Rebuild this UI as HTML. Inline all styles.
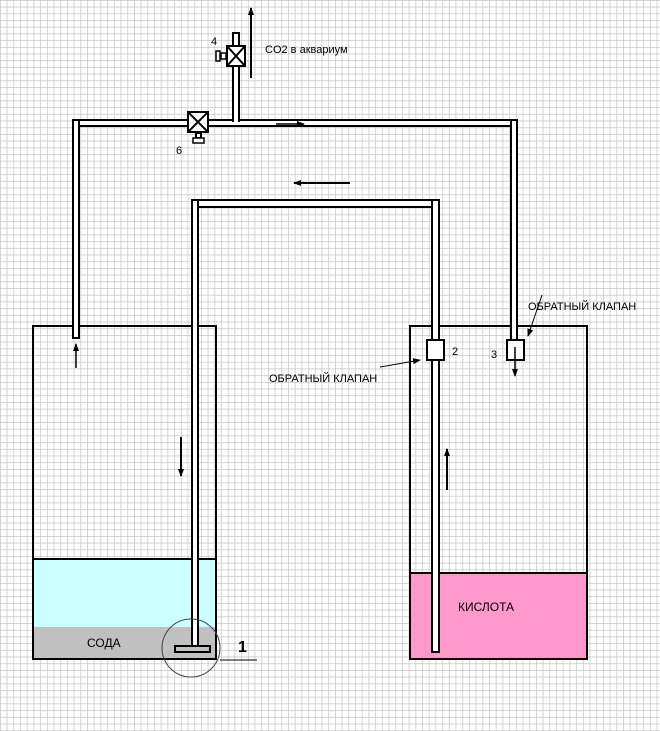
<!DOCTYPE html>
<html><head><meta charset="utf-8"><style>
html,body{margin:0;padding:0;background:#fff}
svg{display:block}
text{font-family:"Liberation Sans",sans-serif;fill:#000}
</style></head><body>
<svg width="660" height="731" viewBox="0 0 660 731" xmlns="http://www.w3.org/2000/svg">
<defs>
<pattern id="g" width="6.7" height="6.7" patternUnits="userSpaceOnUse">
<rect width="6.7" height="6.7" fill="#fff"/>
<path d="M0 0H6.7M0 0V6.7" stroke="#c4c4c4" stroke-width="1.4"/>
</pattern>
<marker id="a" markerWidth="8" markerHeight="8" refX="7" refY="4" orient="auto" markerUnits="userSpaceOnUse"><path d="M0 1L8 4L0 7Z" fill="#000"/></marker>
</defs>
<rect width="660" height="731" fill="url(#g)"/>
<g stroke="#000" stroke-width="2" fill="none">
<!-- tanks -->
<rect x="33" y="559" width="183" height="68" fill="#ccffff" stroke="none"/>
<rect x="33" y="627" width="183" height="32" fill="#c0c0c0" stroke="none"/>
<line x1="33" y1="559" x2="216" y2="559"/>
<rect x="33" y="326" width="183" height="333"/>
<rect x="410" y="573" width="177" height="86" fill="#ff99cc" stroke="none"/>
<line x1="410" y1="573" x2="587" y2="573"/>
<rect x="410" y="326" width="177" height="333"/>
<!-- top pipe -->
<rect x="73" y="120" width="444" height="6" fill="#fff"/>
<rect x="73" y="120" width="6" height="218" fill="#fff"/>
<rect x="511" y="120" width="6" height="222" fill="#fff"/>
<rect x="74" y="121" width="4" height="6" fill="#fff" stroke="none"/>
<rect x="512" y="121" width="4" height="6" fill="#fff" stroke="none"/>
<rect x="233" y="33" width="6" height="88" fill="#fff"/>
<rect x="234" y="118" width="4" height="4" fill="#fff" stroke="none"/>
<!-- second pipe -->
<rect x="192" y="200" width="246" height="7" fill="#fff"/>
<rect x="192" y="200" width="6" height="448" fill="#fff"/>
<rect x="432" y="200" width="7" height="452" fill="#fff"/>
<rect x="193" y="201" width="4" height="7" fill="#fff" stroke="none"/>
<rect x="433" y="201" width="5" height="7" fill="#fff" stroke="none"/>
<!-- diffuser -->
<rect x="175" y="646" width="35" height="6" fill="#c0c0c0"/>
<circle cx="191" cy="648" r="29" stroke="#444" stroke-width="1"/>
<line x1="220" y1="660" x2="257" y2="660" stroke-width="1"/>
<!-- valves -->
<rect x="188" y="112" width="20" height="20" fill="#fff"/>
<path d="M188 112L208 132M208 112L188 132"/>
<rect x="196" y="133" width="5" height="5" fill="#fff"/>
<rect x="193" y="138" width="11" height="5" fill="#fff" stroke-width="1.5"/>
<rect x="227" y="46" width="18" height="20" fill="#fff"/>
<path d="M227 46L245 66M245 46L227 66"/>
<rect x="221" y="53" width="5" height="6" fill="#fff" stroke-width="1.5"/>
<rect x="216" y="51" width="4" height="10" fill="#fff" stroke-width="1.5"/>
<rect x="427" y="340" width="17" height="20" fill="#fff"/>
<rect x="507" y="340" width="17" height="20" fill="#fff"/>
<!-- arrows -->
<line x1="251" y1="78" x2="251" y2="8" marker-end="url(#a)"/>
<line x1="276" y1="124" x2="304" y2="124" stroke-width="1.5" marker-end="url(#a)"/>
<line x1="350" y1="183" x2="294" y2="183" marker-end="url(#a)"/>
<line x1="181" y1="437" x2="181" y2="476" marker-end="url(#a)"/>
<line x1="447" y1="490" x2="447" y2="449" marker-end="url(#a)"/>
<line x1="76" y1="368" x2="76" y2="344" stroke-width="1.5" marker-end="url(#a)"/>
<line x1="515" y1="347" x2="515" y2="376" stroke-width="1.5" marker-end="url(#a)"/>
<line x1="542" y1="295" x2="528" y2="336" stroke-width="1" marker-end="url(#a)"/>
<line x1="380" y1="367" x2="420" y2="360" stroke-width="1" marker-end="url(#a)"/>
</g>
<text x="265" y="53" font-size="11">CO2 в аквариум</text>
<text x="211" y="45" font-size="11">4</text>
<text x="176" y="154" font-size="11">6</text>
<text x="452" y="355" font-size="11">2</text>
<text x="491" y="358" font-size="11">3</text>
<text x="528" y="310" font-size="11">ОБРАТНЫЙ КЛАПАН</text>
<text x="269" y="382" font-size="11">ОБРАТНЫЙ КЛАПАН</text>
<text x="87" y="647" font-size="12">СОДА</text>
<text x="458" y="611" font-size="12">КИСЛОТА</text>
<text x="238" y="652" font-size="16" font-weight="bold">1</text>
</svg>
</body></html>
